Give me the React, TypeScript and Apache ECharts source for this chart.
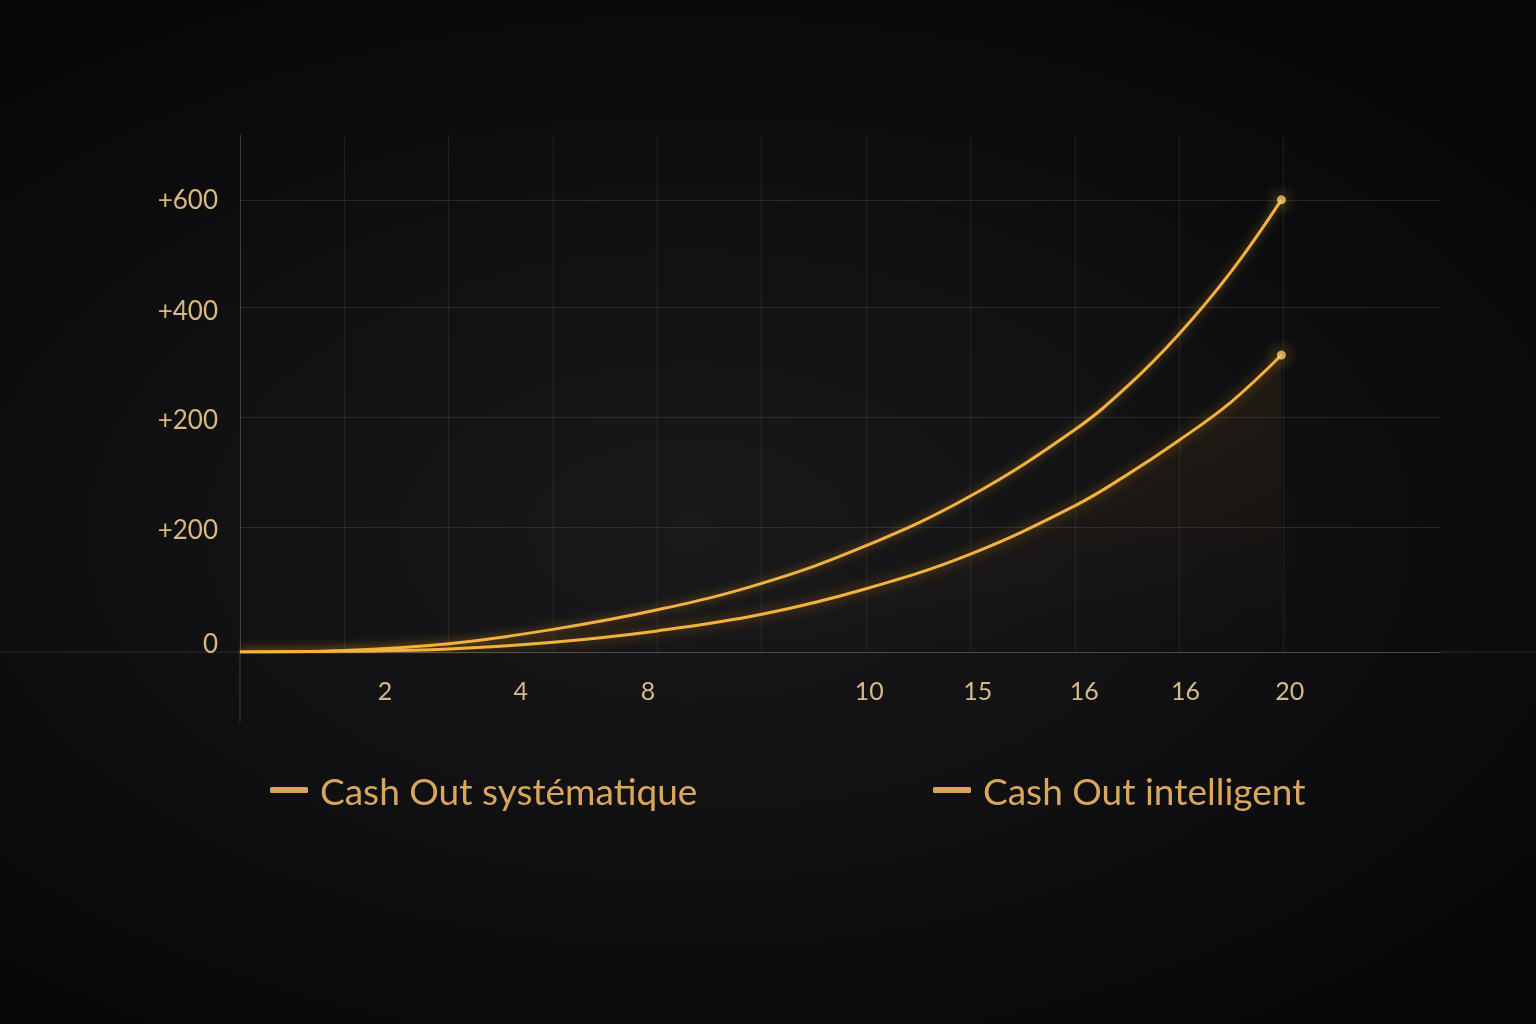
import React, { useEffect, useRef } from "react";
import * as echarts from "echarts";

// ---- data ----
const seriesNames = ["Cash Out systématique", "Cash Out intelligent"];
const stepX = [0, 1, 2, 3, 4, 5, 6, 7, 8, 8.5, 9, 9.5, 9.98];
const systematicY = [0, 2, 11, 30, 56, 91, 141, 207, 295, 352, 422, 505, 600];
const intelligentY = [0, 1, 4, 13, 28, 50, 84, 130, 194, 235, 281, 332, 394];
const xTickLabels = ["2", "4", "8", "10", "15", "16", "16", "20"];
const xLabelValues = [1.39, 2.69, 3.91, 6.03, 7.07, 8.09, 9.06, 10.06];
const xGridValues = [1, 2, 3, 4, 5, 6, 7, 8, 9, 10];
const yTickLabels = ["0", "+200", "+200", "+400", "+600"];
const yLabelValues = [12, 163, 309, 454, 601];
const yGridValues = [166, 311, 457, 600];

const FONT = "Lato, 'Open Sans', sans-serif";
const LINE_COLOR = "#f2b23e";

function nearestLabel(values: number[], labels: string[], v: number) {
  let best = 0;
  for (let i = 1; i < values.length; i++) {
    if (Math.abs(values[i] - v) < Math.abs(values[best] - v)) best = i;
  }
  return labels[best];
}

export default function App() {
  const ref = useRef<HTMLDivElement>(null);
  useEffect(() => {
    if (!ref.current) return;
    const chart = echarts.init(ref.current, null, { renderer: "svg" });
    const sysData = stepX.map((x, i) => [x, systematicY[i]]);
    const intData = stepX.map((x, i) => [x, intelligentY[i]]);
    const lineCommon = {
      type: "line",
      smooth: 0.4,
      symbol: "none",
      z: 5,
    };
    const legendCommon = {
      top: 770,
      padding: 0,
      icon: "roundRect",
      itemWidth: 38,
      itemHeight: 6,
      textStyle: { color: "#d9a65c", fontSize: 37, fontFamily: FONT, lineHeight: 40, padding: [0, 0, 0, 7] },
    };
    chart.setOption({
      animation: false,
      backgroundColor: "transparent",
      grid: { left: 240, right: 96, top: 135, bottom: 372, containLabel: false },
      xAxis: {
        type: "value",
        min: 0,
        max: 11.5,
        axisLine: { show: true, lineStyle: { color: "rgba(255,255,255,0.24)", width: 1 } },
        axisTick: { show: false, customValues: xGridValues },
        splitLine: { show: true, lineStyle: { color: "rgba(255,255,255,0.07)", width: 1 } },
        axisLabel: {
          customValues: xLabelValues,
          margin: 25,
          color: "#d6b98a",
          fontSize: 25,
          fontFamily: FONT,
          formatter: (v: number) => nearestLabel(xLabelValues, xTickLabels, v),
        },
      },
      yAxis: {
        type: "value",
        min: 0,
        max: 686,
        axisLine: { show: true, lineStyle: { color: "rgba(255,255,255,0.2)", width: 1 } },
        axisTick: { show: false, customValues: yGridValues },
        splitLine: { show: true, lineStyle: { color: "rgba(255,255,255,0.1)", width: 1 } },
        axisLabel: {
          customValues: yLabelValues,
          margin: 22,
          color: "#d8b780",
          fontSize: 26,
          fontFamily: FONT,
          formatter: (v: number) => nearestLabel(yLabelValues, yTickLabels, v),
        },
      },
      legend: [
        { ...legendCommon, data: [{ name: seriesNames[0], itemStyle: { color: "#d9a55a" } }], left: 270 },
        { ...legendCommon, data: [{ name: seriesNames[1], itemStyle: { color: "#d9a55a" } }], left: 933 },
      ],
      graphic: [
        { type: "line", shape: { x1: 0, y1: 652, x2: 240, y2: 652 }, style: { stroke: "rgba(255,255,255,0.1)", lineWidth: 1 } },
        { type: "line", shape: { x1: 1440, y1: 652, x2: 1536, y2: 652 }, style: { stroke: "rgba(255,255,255,0.12)", lineWidth: 1 } },
        { type: "line", shape: { x1: 240, y1: 652, x2: 240, y2: 722 }, style: { stroke: "rgba(255,255,255,0.2)", lineWidth: 1 } },
      ],
      series: [
        {
          ...lineCommon,
          name: seriesNames[0],
          data: sysData,
          color: LINE_COLOR,
          lineStyle: { color: LINE_COLOR, width: 3, shadowBlur: 10, shadowColor: "rgba(255,170,40,0.5)" },
        },
        {
          ...lineCommon,
          name: seriesNames[1],
          data: intData,
          color: LINE_COLOR,
          lineStyle: { color: LINE_COLOR, width: 3, shadowBlur: 12, shadowColor: "rgba(255,160,30,0.55)" },
          areaStyle: {
            color: new echarts.graphic.LinearGradient(0, 0, 0, 1, [
              { offset: 0, color: "rgba(170,110,30,0.16)" },
              { offset: 1, color: "rgba(170,110,30,0.0)" },
            ]),
          },
        },
        {
          type: "scatter",
          name: "end",
          z: 6,
          symbolSize: 9,
          itemStyle: { color: "#f8c868", shadowBlur: 18, shadowColor: "rgba(255,190,80,0.95)" },
          data: [sysData[sysData.length - 1], intData[intData.length - 1]],
        },
      ],
    });
    return () => chart.dispose();
  }, []);
  return (
    <div
      style={{
        position: "fixed",
        left: 0,
        top: 0,
        width: 1536,
        height: 1024,
        background:
          "radial-gradient(ellipse 75% 65% at 45% 52%, #19191b 0%, #111113 45%, #060607 100%)",
      }}
    >
      <div ref={ref} style={{ width: 1536, height: 1024 }} />
    </div>
  );
}
